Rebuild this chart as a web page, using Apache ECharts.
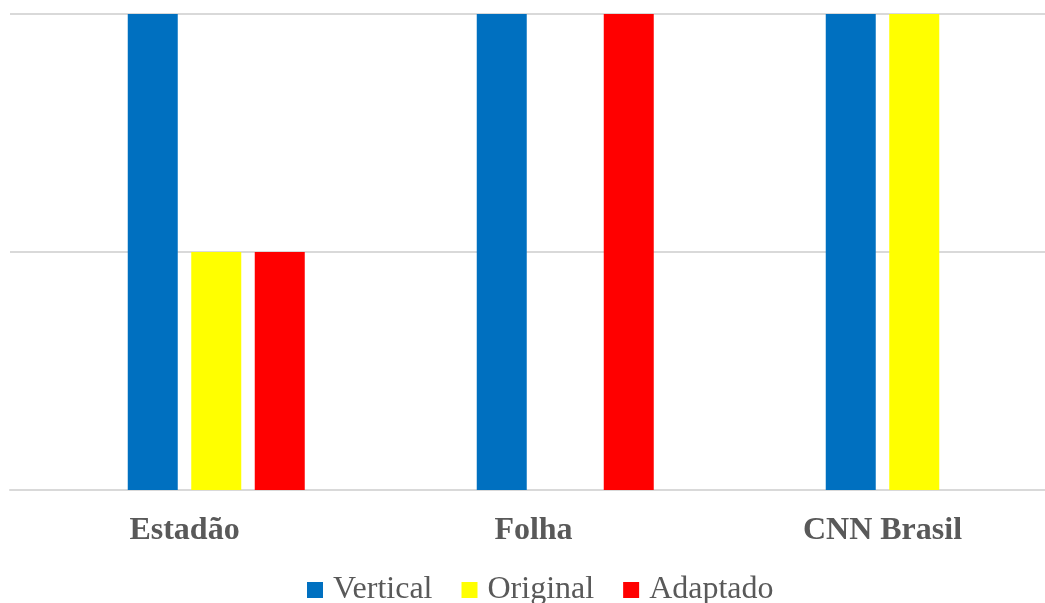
<!DOCTYPE html>
<html>
<head>
<meta charset="utf-8">
<script src="https://cdn.jsdelivr.net/npm/echarts@6/dist/echarts.min.js"></script>
<style>
  html, body { margin: 0; padding: 0; background: #fff; overflow: hidden; }
  #chart { width: 1057px; height: 603px; }
</style>
</head>
<body>
<div id="chart"></div>
<script>
// categories and series values
const categories = ['Estadão', 'Folha', 'CNN Brasil'];
const vertical = [2, 2, 2];
const original = [1, 0, 2];
const adaptado = [1, 2, 0];
// empty first slot in each group (the original chart leaves a gap before the blue bar)
const spacer = [null, null, null];

const myChart = echarts.init(document.getElementById('chart'));

const textColor = '#595959';
const serif = '"Liberation Serif", "Times New Roman", serif';

myChart.setOption({
    animation: false,
    color: ['#ffffff', '#0070C0', '#FFFF00', '#FF0000'],
    grid: {
        left: 10,
        top: 14,
        bottom: 113,
        right: 0,
        containLabel: false
    },
    legend: {
        data: ['Vertical', 'Original', 'Adaptado'],
        left: 302,
        top: 569,
        itemWidth: 16,
        itemHeight: 16,
        itemGap: 29,
        icon: 'rect',
        textStyle: {
            fontFamily: serif,
            fontSize: 32,
            color: textColor,
            padding: [0, 0, 0, 5]
        }
    },
    xAxis: {
        type: 'category',
        data: categories,
        axisLine: { show: true, lineStyle: { color: '#d9d9d9', width: 2 } },
        axisTick: { show: false },
        axisLabel: {
            margin: 25,
            fontFamily: serif,
            fontWeight: 'bold',
            fontSize: 32,
            color: textColor
        }
    },
    yAxis: {
        type: 'value',
        min: 0,
        max: 2,
        interval: 1,
        axisLabel: { show: false },
        axisLine: { show: false },
        axisTick: { show: false },
        splitLine: { lineStyle: { color: '#d9d9d9', width: 2 } }
    },
    series: [
        { name: '', type: 'bar', data: spacer, barWidth: 50, barGap: '27%', silent: true },
        { name: 'Vertical', type: 'bar', data: vertical, barWidth: 50, barGap: '27%' },
        { name: 'Original', type: 'bar', data: original, barWidth: 50, barGap: '27%' },
        { name: 'Adaptado', type: 'bar', data: adaptado, barWidth: 50, barGap: '27%' }
    ]
});
</script>
</body>
</html>
